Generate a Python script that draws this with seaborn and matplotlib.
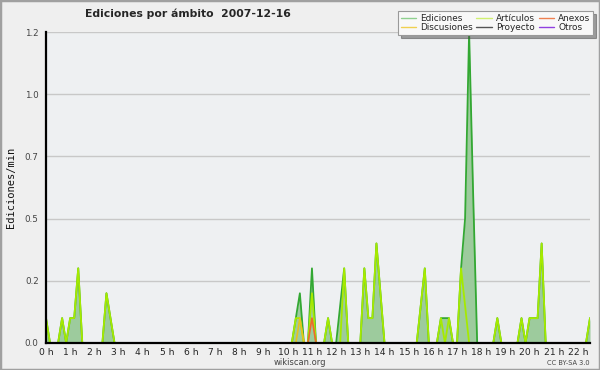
import numpy as np
import pandas as pd
import matplotlib
matplotlib.use("Agg")
import matplotlib.pyplot as plt
from matplotlib.lines import Line2D
from matplotlib.patches import Rectangle
from matplotlib.ticker import MultipleLocator, FixedLocator
import seaborn as sns

# ---- data: edits per minute, 10-minute slots, 00:00 .. 22:30 (non-zero slots only) ----
ediciones = {"00:00": 0.1, "00:40": 0.1, "01:00": 0.1, "01:10": 0.1, "01:20": 0.3,
             "02:30": 0.2, "02:40": 0.1, "10:20": 0.1, "10:30": 0.2, "11:00": 0.3,
             "11:40": 0.1, "12:10": 0.15, "12:20": 0.3, "13:10": 0.3, "13:20": 0.1,
             "13:30": 0.1, "13:40": 0.4, "13:50": 0.2, "15:30": 0.15, "15:40": 0.3,
             "16:20": 0.1, "16:30": 0.1, "16:40": 0.1, "17:10": 0.3, "17:20": 0.5,
             "17:30": 1.25, "17:40": 0.6, "18:40": 0.1, "19:40": 0.1, "20:00": 0.1,
             "20:10": 0.1, "20:20": 0.1, "20:30": 0.4, "22:30": 0.1}
articulos = {"00:00": 0.1, "00:40": 0.1, "01:00": 0.1, "01:10": 0.1, "01:20": 0.3,
             "02:30": 0.2, "02:40": 0.1, "10:20": 0.1, "10:30": 0.1, "11:00": 0.2,
             "11:40": 0.1, "12:20": 0.3, "13:10": 0.3, "13:20": 0.1, "13:30": 0.1,
             "13:40": 0.4, "13:50": 0.2, "15:30": 0.15, "15:40": 0.3, "16:20": 0.1,
             "16:40": 0.1, "17:10": 0.3, "17:20": 0.15, "18:40": 0.1, "19:40": 0.1,
             "20:00": 0.1, "20:10": 0.1, "20:20": 0.1, "20:30": 0.4, "22:30": 0.1}
discusiones = {"10:30": 0.1}
anexos = {"11:00": 0.1}
proyecto = {}
otros = {}

hour_labels = [f"{h} h" for h in range(23)]
y_ticks = [0.0, 0.25, 0.5, 0.75, 1.0, 1.25]
y_labels = ["0.0", "0.2", "0.5", "0.7", "1.0", "1.2"]

slots = [f"{h:02d}:{m:02d}" for h in range(23) for m in range(0, 60, 10)][:136]
hours = [int(s[:2]) + int(s[3:]) / 60 for s in slots]

series = [("Ediciones", ediciones, "#33a833", 1.3, 3),
          ("Discusiones", discusiones, "#e8c21c", 1.2, 5),
          ("Artículos", articulos, "#a6ea00", 1.3, 4),
          ("Proyecto", proyecto, "#555555", 1.1, 5),
          ("Anexos", anexos, "#ee6a2a", 1.2, 5),
          ("Otros", otros, "#8a3fe0", 1.1, 5)]
legend_colors = {"Ediciones": "#8fd08f", "Discusiones": "#f0d050", "Artículos": "#d0f070",
                 "Proyecto": "#555555", "Anexos": "#ee8050", "Otros": "#9040e0"}

df = pd.DataFrame({"hora": hours})
for name, d, *_ in series:
    df[name] = [d.get(s, 0.0) for s in slots]

# ---- figure ----
sns.set_style("white")
plt.rcParams["font.family"] = ["DejaVu Sans"]
fig = plt.figure(figsize=(6, 3.7), dpi=100, facecolor="#efefef")
ax = fig.add_axes([46 / 600, 1 - 343 / 370, 544 / 600, 311 / 370])
ax.set_facecolor("#eef0f2")

ax.fill_between(df["hora"], df["Ediciones"], 0, color="#9dcb9d", lw=0, zorder=2)
for name, d, color, lw, z in series:
    sns.lineplot(data=df, x="hora", y=name, ax=ax, color=color, lw=lw, zorder=z,
                 legend=False)

ax.set_xlim(0, 22.5)
ax.set_ylim(0, 1.25)
ax.xaxis.set_major_locator(FixedLocator(range(23)))
ax.set_xticklabels(hour_labels)
ax.xaxis.set_minor_locator(MultipleLocator(1 / 6))
ax.yaxis.set_major_locator(FixedLocator(y_ticks))
ax.set_yticklabels(y_labels)
ax.yaxis.set_minor_locator(MultipleLocator(0.0625))
ax.tick_params(axis="x", which="both", direction="out", length=3.2, width=1,
               color="black", labelsize=6.6, pad=0.5, labelcolor="#222222")
ax.tick_params(axis="y", which="major", direction="out", length=4.3, width=1,
               color="black", labelsize=6.3, pad=1, labelcolor="#444444")
ax.tick_params(axis="y", which="minor", direction="out", length=2.2, width=1,
               color="black")
ax.grid(axis="y", which="major", color="#c8c8c8", lw=1, zorder=0)
ax.set_axisbelow(True)
for s in ["top", "right"]:
    ax.spines[s].set_visible(False)
for s in ["left", "bottom"]:
    ax.spines[s].set_color("black")
    ax.spines[s].set_linewidth(1.6)
    ax.spines[s].set_zorder(10)
ax.set_xlabel("")
ax.set_ylabel("Ediciones/min", family="DejaVu Sans Mono", fontsize=7.5,
              color="#111111", labelpad=6)

fig.text(188 / 600, 1 - 14 / 370, "Ediciones por ámbito  2007-12-16",
         ha="center", va="center", fontsize=7.8, fontweight="bold")
fig.text(300 / 600, 1 - 362.5 / 370, "wikiscan.org", ha="center", va="center",
         fontsize=6, color="#444444")
fig.text(590 / 600, 1 - 363 / 370, "CC BY-SA 3.0", ha="right", va="center",
         fontsize=4.8, color="#444444")

handles = [Line2D([], [], color=legend_colors[n], lw=1) for n, *_ in series]
labels = [n for n, *_ in series]
leg = fig.legend(handles, labels, ncol=3, loc="upper right",
                 bbox_to_anchor=(593 / 600, 1 - 11 / 370), fontsize=6.4,
                 frameon=True, fancybox=False, shadow=True, handlelength=1.7,
                 handletextpad=0.5, columnspacing=0.4, labelspacing=0.05,
                 borderpad=0.3, borderaxespad=0)
leg.get_frame().set_facecolor("#f8f8f8")
leg.get_frame().set_edgecolor("#999999")
leg.get_frame().set_linewidth(0.8)

fig.patches.append(Rectangle((0, 0), 1, 1, transform=fig.transFigure, fill=False,
                             edgecolor="#a0a0a0", lw=2.5, zorder=100))

fig.savefig("out.png", dpi=100, facecolor=fig.get_facecolor())
